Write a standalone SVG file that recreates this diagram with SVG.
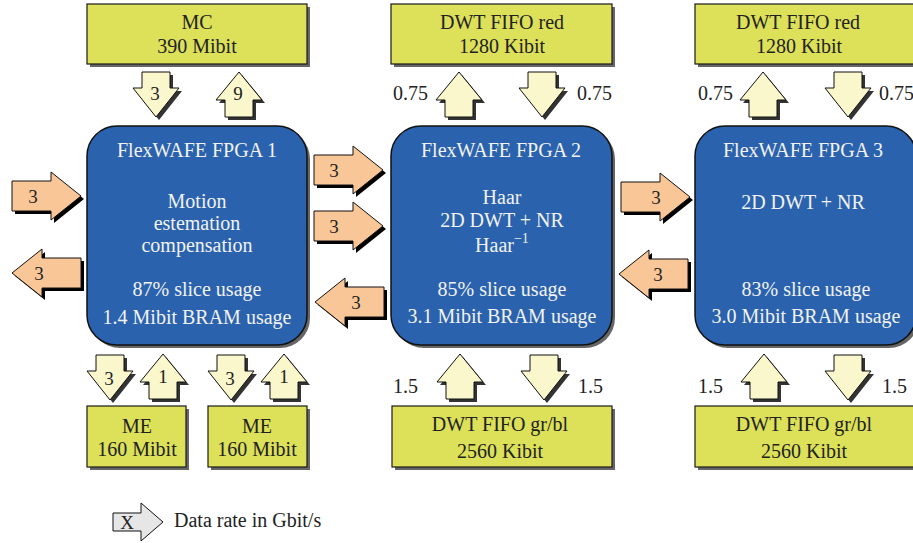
<svg xmlns="http://www.w3.org/2000/svg" xmlns:xlink="http://www.w3.org/1999/xlink" width="913" height="543" viewBox="0 0 913 543" font-family="'Liberation Serif', serif">
<style>
text{font-family:'Liberation Serif',serif;font-size:20px;text-anchor:middle}
.mem{fill:#dde059;stroke:#1a1a1a;stroke-width:1.2}
.sh{fill:#666}
.fpga{fill:#2a62ad;stroke:#111;stroke-width:1.5}
.mt{fill:#222}
.ft{fill:#f2f2f2}
.ya{fill:#faf7cd;stroke:#111;stroke-width:1}
.oa{fill:#f9c797;stroke:#111;stroke-width:1}
.ysh{fill:#333}
.osh{fill:#000}
.al{font-size:19px;fill:#222}
.rl{fill:#222;font-size:20px}
.lg{fill:#e6e6e6;stroke:#111;stroke-width:1}
</style>
<defs>
<path id="dnp" d="M-14,-45 H14 V-29 H23 L0,0 L-23,-29 H-14 Z"/>
<path id="upp" d="M0,0 L23,28 H14 V45 H-14 V28 H-23 Z"/>
<path id="rtp" d="M-69,-15 H-30 V-24 L0,0 L-30,24 V15 H-69 Z"/>
<path id="ltp" d="M0,0 L30,-24 V-15 H69 V15 H30 V24 Z"/>
<g id="dn"><use xlink:href="#dnp" class="ysh" x="3" y="3"/><use xlink:href="#dnp" class="ya"/></g>
<g id="up"><use xlink:href="#upp" class="ysh" x="3" y="3"/><use xlink:href="#upp" class="ya"/></g>
<g id="rt"><use xlink:href="#rtp" class="osh" x="3" y="3"/><use xlink:href="#rtp" class="oa"/></g>
<g id="lt"><use xlink:href="#ltp" class="osh" x="3" y="3"/><use xlink:href="#ltp" class="oa"/></g>
</defs>

<g id="mc">
<rect class="sh" x="90" y="7" width="220" height="60"/>
<rect class="mem" x="87" y="4" width="220" height="60"/>
<text class="mt" x="197" y="29">MC</text>
<text class="mt" x="197" y="53">390 Mibit</text>
</g>
<g id="fifo-red-1">
<rect class="sh" x="394" y="7" width="221" height="60"/>
<rect class="mem" x="391" y="4" width="221" height="60"/>
<text class="mt" x="502" y="29">DWT FIFO red</text>
<text class="mt" x="502" y="53">1280 Kibit</text>
</g>
<g id="fifo-red-2">
<rect class="sh" x="698" y="7" width="221" height="60"/>
<rect class="mem" x="695" y="4" width="221" height="60"/>
<text class="mt" x="798" y="29">DWT FIFO red</text>
<text class="mt" x="799" y="53">1280 Kibit</text>
</g>

<g id="fpga1">
<rect class="sh" x="90" y="129" width="220" height="219" rx="30"/>
<rect class="fpga" x="87" y="126" width="220" height="219" rx="30"/>
<text class="ft" x="197" y="157">FlexWAFE FPGA 1</text>
<text class="ft" x="197" y="208">Motion</text>
<text class="ft" x="197" y="230">estemation</text>
<text class="ft" x="197" y="252">compensation</text>
<text class="ft" x="197" y="296">87% slice usage</text>
<text class="ft" x="197" y="324">1.4 Mibit BRAM usage</text>
</g>
<g id="fpga2">
<rect class="sh" x="394" y="129" width="221" height="219" rx="30"/>
<rect class="fpga" x="391" y="126" width="221" height="219" rx="30"/>
<text class="ft" x="501" y="157">FlexWAFE FPGA 2</text>
<text class="ft" x="502" y="204">Haar</text>
<text class="ft" x="502" y="227">2D DWT + NR</text>
<text class="ft" x="502" y="252">Haar<tspan font-size="14" dy="-9">−1</tspan></text>
<text class="ft" x="502" y="296">85% slice usage</text>
<text class="ft" x="502" y="323">3.1 Mibit BRAM usage</text>
</g>
<g id="fpga3">
<rect class="sh" x="698" y="129" width="221" height="219" rx="30"/>
<rect class="fpga" x="695" y="126" width="221" height="219" rx="30"/>
<text class="ft" x="803" y="157">FlexWAFE FPGA 3</text>
<text class="ft" x="803" y="209">2D DWT + NR</text>
<text class="ft" x="806" y="296">83% slice usage</text>
<text class="ft" x="806" y="323">3.0 Mibit BRAM usage</text>
</g>

<g id="me1">
<rect class="sh" x="90" y="409" width="99" height="61"/>
<rect class="mem" x="87" y="406" width="99" height="61"/>
<text class="mt" x="137" y="433">ME</text>
<text class="mt" x="137" y="456">160 Mibit</text>
</g>
<g id="me2">
<rect class="sh" x="211" y="409" width="99" height="61"/>
<rect class="mem" x="208" y="406" width="99" height="61"/>
<text class="mt" x="257" y="433">ME</text>
<text class="mt" x="257" y="456">160 Mibit</text>
</g>
<g id="fifo-grbl-1">
<rect class="sh" x="395" y="409" width="220" height="61"/>
<rect class="mem" x="392" y="406" width="220" height="61"/>
<text class="mt" x="500" y="431">DWT FIFO gr/bl</text>
<text class="mt" x="500" y="458">2560 Kibit</text>
</g>
<g id="fifo-grbl-2">
<rect class="sh" x="698" y="409" width="221" height="61"/>
<rect class="mem" x="695" y="406" width="221" height="61"/>
<text class="mt" x="804" y="431">DWT FIFO gr/bl</text>
<text class="mt" x="804" y="458">2560 Kibit</text>
</g>

<g id="connectors">
<use xlink:href="#dn" x="156" y="117"/><text class="al" x="155" y="100">3</text>
<use xlink:href="#up" x="239" y="72"/><text class="al" x="238" y="100">9</text>
<use xlink:href="#up" x="459" y="72"/><text class="rl" x="428" y="100" style="text-anchor:end">0.75</text>
<use xlink:href="#dn" x="542" y="117"/><text class="rl" x="577" y="100" style="text-anchor:start">0.75</text>
<use xlink:href="#up" x="763" y="72"/><text class="rl" x="733" y="100" style="text-anchor:end">0.75</text>
<use xlink:href="#dn" x="848" y="117"/><text class="rl" x="879" y="100" style="text-anchor:start">0.75</text>

<use xlink:href="#rt" x="81" y="196"/><text class="al" x="33" y="203">3</text>
<use xlink:href="#lt" x="12" y="273"/><text class="al" x="39" y="280">3</text>
<use xlink:href="#rt" x="383" y="170"/><text class="al" x="334" y="177">3</text>
<use xlink:href="#rt" x="383" y="226"/><text class="al" x="334" y="233">3</text>
<use xlink:href="#lt" x="315" y="302"/><text class="al" x="356" y="309">3</text>
<use xlink:href="#rt" x="690" y="197"/><text class="al" x="656" y="204">3</text>
<use xlink:href="#lt" x="619" y="274"/><text class="al" x="658" y="281">3</text>

<use xlink:href="#dn" x="110" y="400"/><text class="al" x="109" y="385">3</text>
<use xlink:href="#up" x="163" y="354"/><text class="al" x="163" y="383">1</text>
<use xlink:href="#dn" x="231" y="400"/><text class="al" x="230" y="385">3</text>
<use xlink:href="#up" x="284" y="354"/><text class="al" x="284" y="383">1</text>
<use xlink:href="#up" x="460" y="354"/><text class="rl" x="418" y="393" style="text-anchor:end">1.5</text>
<use xlink:href="#dn" x="544" y="400"/><text class="rl" x="578" y="393" style="text-anchor:start">1.5</text>
<use xlink:href="#up" x="764" y="354"/><text class="rl" x="723" y="393" style="text-anchor:end">1.5</text>
<use xlink:href="#dn" x="848" y="400"/><text class="rl" x="882" y="393" style="text-anchor:start">1.5</text>
</g>

<g id="legend">
<path class="lg" d="M113,513 H141 V503 L163,522 L141,541 V531 H113 Z"/>
<text class="al" x="127" y="529">X</text>
<text class="rl" x="174" y="527" style="text-anchor:start">Data rate in Gbit/s</text>
</g>
</svg>
